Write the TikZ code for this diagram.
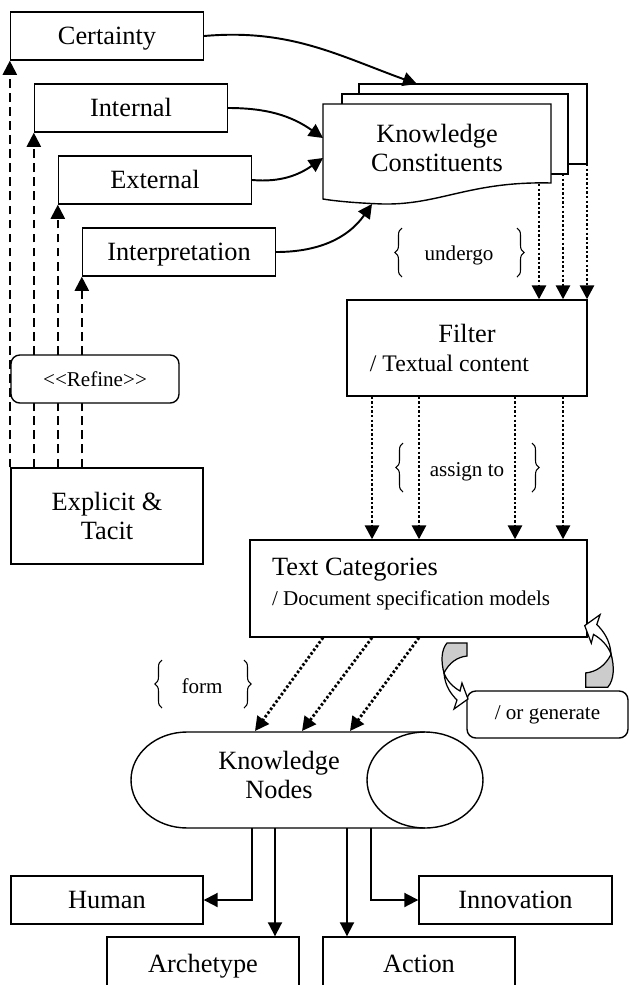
\documentclass[tikz,border=0pt]{standalone}
\usepackage{fontspec}
\setmainfont{Liberation Serif}
\usetikzlibrary{arrows.meta,decorations.pathreplacing}

\tikzset{
  turnarrow/.pic={
    \draw[line width=0.7pt,fill=gray!40] (-8,-32) -- (12,-32) -- (12,-19) .. controls (2,-18) and (-6,-12) .. (-11,-2) .. controls (-14,-13) and (-14,-25) .. (-8,-32) -- cycle;
    \draw[line width=0.7pt,fill=white] (-11,-2) .. controls (-10,11) and (-4,19) .. (2,25) -- (-1,34) -- (13,24) -- (7,8) -- (5,16) .. controls (-2,12) and (-8,6) .. (-11,-2) -- cycle;
  }
}

\begin{document}
\begin{tikzpicture}[x=0.02cm,y=-0.02cm,
                    box/.style={rectangle,draw=black,line width=0.8pt,fill=white,minimum width=3.86cm,minimum height=0.96cm,inner sep=2pt,font=\fontsize{15}{17}\selectfont},
                    leaf/.style={box,text height=11pt,text depth=1pt},
                    roundbox/.style={box,rounded corners=5pt},
                    note/.style={font=\fontsize{12}{14}\selectfont},
                    flow/.style={line width=1.1pt,-{Triangle[width=8pt,length=8pt]}},
                    refine/.style={flow,line width=1.2pt,dash pattern=on 5pt off 3pt},
                    dotline/.style={flow,line width=1.6pt,dash pattern=on 1.4pt off 1.2pt},
                    brace/.style={decorate,decoration={brace,amplitude=4pt},line width=0.6pt}
                ]
                    \useasboundingbox (0,0) rectangle (629,985);

                    % knowledge constituents
                    \draw[line width=0.8pt,fill=white] (359,84) rectangle (587,164);
                    \draw[line width=0.8pt,fill=white] (342,94) rectangle (568,174);
                    \draw[line width=0.8pt,fill=white] (323,104) -- (551,104) -- (551,183) .. controls (470,181) and (440,205) .. (383,204) .. controls (355,203) and (335,201) .. (323,199) -- cycle;
                    \node[font=\fontsize{15}{17}\selectfont,align=center] (kc) at (437,148) {Knowledge\\Constituents};
                    \coordinate (kc-top) at (417,84);
                    \coordinate (kc-in1) at (323,138);
                    \coordinate (kc-in2) at (323,158);
                    \coordinate (kc-low) at (372,204);
                    \coordinate (kc1) at (539,184);
                    \coordinate (kc2) at (563,174);
                    \coordinate (kc3) at (587,164);

                    \foreach \name/\txt [count=\i] in {cert/Certainty,intern/Internal,extern/External,interp/Interpretation}
                        {
                        \node[leaf] (\name) at (83+24*\i,-36+72*\i) {\txt};
                    }

                    \node[box,minimum width=3.84cm,minimum height=1.92cm,align=center] (expl) at (107,516) {Explicit \&\\Tacit};
                    \foreach \name in {cert,intern,extern,interp}
                        \draw[refine] (\name.south west |- expl.north) -- (\name.south west);
                    \node[roundbox,note,minimum width=3.36cm] (refine) at (95,379) {<\kern0pt<Refine>\kern0pt>};

                    \draw[flow] (cert.east) to[out=5,in=160] (kc-top);
                    \draw[flow] (intern.east) to[out=0,in=145] (kc-in1);
                    \draw[flow] (extern.east) to[out=-5,in=215] (kc-in2);
                    \draw[flow] (interp.east) to[out=0,in=235] (kc-low);

                    % filter
                    \node[box,minimum width=4.8cm,minimum height=1.92cm,align=center] (filter) at (467,348) {Filter\\{\fontsize{13.5}{16}\selectfont / Textual content\rule{20pt}{0pt}}};
                    \foreach \c in {kc1,kc2,kc3}
                        \draw[dotline] (\c) -- (\c |- filter.north);
                    \node[note] (undergo) at (459,255) {undergo};
                    \draw[brace] (402,277) -- (402,228);
                    \draw[brace] (517,228) -- (517,277);

                    % text categories
                    \node[box,minimum width=6.74cm,minimum height=1.94cm,align=flush left,text width=5.86cm] (tcat) at (418.5,588.5) {Text Categories\\{\fontsize{12}{14}\selectfont / Document specification models}\\[-9pt]\mbox{}};
                    \foreach \x in {372,419,515,563}
                        \draw[dotline] (\x,0 |- filter.south) -- (\x,0 |- tcat.north);
                    \node[note] (assign) at (467,472) {assign to};
                    \draw[brace] (403,492) -- (403,443);
                    \draw[brace] (532,443) -- (532,492);

                    \node[roundbox,note,minimum width=3.22cm,minimum height=0.94cm] (gen) at (547.5,714.5) {/ or generate};
                    \pic at (455,675) {turnarrow};
                    \pic[rotate=180,scale=1.1] at (599,652) {turnarrow};

                    % knowledge nodes
                    \draw[line width=0.8pt] (425,732) -- (187,732) arc[start angle=90,end angle=270,x radius=1.12cm,y radius=0.96cm] -- (425,828);
                    \draw[line width=0.8pt] (425,780) ellipse[x radius=1.16cm,y radius=0.96cm];
                    \node[font=\fontsize{15}{17}\selectfont,align=center] (kn) at (279,775) {Knowledge\\Nodes};
                    \coordinate (kn-top) at (279,731);
                    \foreach \a/\b in {323/255,372/302,419/350}
                        \draw[dotline] (\a,0 |- tcat.south) -- (\b,0 |- kn-top);
                    \node[note] (form) at (202,686) {form};
                    \draw[brace] (162,708) -- (162,660);
                    \draw[brace] (244,660) -- (244,708);

                    \node[leaf,minimum width=3.84cm] (human) at (107,900) {Human};
                    \node[leaf] (innov) at (515.5,900) {Innovation};
                    \node[leaf,minimum width=3.84cm,minimum height=1.06cm] (arch) at (203,963.5) {Archetype};
                    \node[leaf,minimum width=3.84cm,minimum height=1.06cm] (action) at (419,963.5) {Action};
                    \coordinate (kn1) at (252,828);
                    \coordinate (kn2) at (275,828);
                    \coordinate (kn3) at (347,828);
                    \coordinate (kn4) at (371,828);
                    \draw[flow] (kn1) |- (human.east);
                    \draw[flow] (kn2) -- (kn2 |- arch.north);
                    \draw[flow] (kn3) -- (kn3 |- action.north);
                    \draw[flow] (kn4) |- (innov.west);

                \end{tikzpicture}
\end{document}
